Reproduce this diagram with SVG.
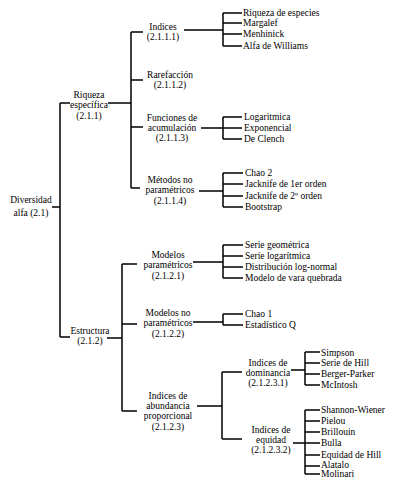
<svg xmlns="http://www.w3.org/2000/svg" width="415" height="490" viewBox="0 0 415 490">
<style>
text{font-family:"Liberation Serif",Tinos,"Times New Roman",Times,serif;font-size:9.5px;fill:#000}
.c{text-anchor:middle}
.e{fill:none;stroke:#000;stroke-width:1.5}
</style>
<rect width="415" height="490" fill="#fff"/>
<g id="connectors">
<path class="e" d="M52 207H60M60 103V337M60 103H70M60 337H70"/>
<path class="e" d="M108 103H131M131 32V188M131 32H143M131 80H143M131 127H143M131 188H140"/>
<path class="e" d="M184 30H223M223 13V46M223 13H242M223 23H242M223 34H242M223 46H242"/>
<path class="e" d="M201 128H223M223 117V139M223 117H242M223 128H242M223 139H242"/>
<path class="e" d="M199 191H223M223 173V207M223 173H243M223 184H243M223 196H243M223 207H243"/>
<path class="e" d="M107 338H122M122 264V411M122 264H137M122 324H137M122 411H137"/>
<path class="e" d="M193 262H223M223 245V278M223 245H243M223 256H243M223 267H243M223 278H243"/>
<path class="e" d="M193 322H223M223 314V325M223 314H243M223 325H243"/>
<path class="e" d="M197 406H222M222 372V439M222 372H242M222 439H242"/>
<path class="e" d="M291 370H305M305 352V385M305 352H320M305 363H320M305 374H320M305 385H320"/>
<path class="e" d="M293 443H305M305 410V474M305 410H320M305 421H320M305 432H320M305 443H320M305 455H320M305 466H320M305 474H320"/>
</g>
<g id="n-diversidad"><text class="c" x="31" y="203">Diversidad</text><text class="c" x="31" y="216">alfa (2.1)</text></g>
<g id="n-riqueza"><text class="c" x="89" y="98">Riqueza</text><text class="c" x="89" y="108">específica</text><text class="c" x="89" y="119">(2.1.1)</text></g>
<g id="n-indices"><text class="c" x="163" y="30">Indices</text><text class="c" x="163" y="40">(2.1.1.1)</text></g>
<g id="n-rarefaccion"><text class="c" x="170" y="78">Rarefacción</text><text class="c" x="170" y="88">(2.1.1.2)</text></g>
<g id="n-funciones"><text class="c" x="172" y="121">Funciones de</text><text class="c" x="172" y="131">acumulación</text><text class="c" x="172" y="141">(2.1.1.3)</text></g>
<g id="n-metodos"><text class="c" x="170" y="183">Métodos no</text><text class="c" x="170" y="193">paramétricos</text><text class="c" x="170" y="204">(2.1.1.4)</text></g>
<g id="n-estructura"><text class="c" x="90" y="334">Estructura</text><text class="c" x="90" y="344">(2.1.2)</text></g>
<g id="n-modelos-param"><text class="c" x="168" y="258">Modelos</text><text class="c" x="168" y="268">paramétricos</text><text class="c" x="168" y="279">(2.1.2.1)</text></g>
<g id="n-modelos-noparam"><text class="c" x="168" y="316">Modelos no</text><text class="c" x="168" y="326">paramétricos</text><text class="c" x="168" y="337">(2.1.2.2)</text></g>
<g id="n-abundancia"><text class="c" x="168" y="399">Indices de</text><text class="c" x="168" y="409">abundancia</text><text class="c" x="168" y="419">proporcional</text><text class="c" x="168" y="430">(2.1.2.3)</text></g>
<g id="n-dominancia"><text class="c" x="268" y="366">Indices de</text><text class="c" x="268" y="376">dominancia</text><text class="c" x="268" y="386">(2.1.2.3.1)</text></g>
<g id="n-equidad"><text class="c" x="271" y="433">Indices de</text><text class="c" x="271" y="443">equidad</text><text class="c" x="271" y="453">(2.1.2.3.2)</text></g>
<g id="leaves-indices">
<text x="243" y="16">Riqueza de especies</text><text x="243" y="26">Margalef</text><text x="243" y="37">Menhinick</text><text x="243" y="49">Alfa de Williams</text></g>
<g id="leaves-funciones"><text x="244" y="120">Logaritmica</text><text x="244" y="131">Exponencial</text><text x="244" y="142">De Clench</text></g>
<g id="leaves-metodos"><text x="245" y="176">Chao 2</text><text x="245" y="187">Jacknife de 1er orden</text><text x="245" y="199">Jacknife de 2º orden</text><text x="245" y="210">Bootstrap</text></g>
<g id="leaves-modelos"><text x="245" y="248">Serie geométrica</text><text x="245" y="259">Serie logarítmica</text><text x="245" y="270">Distribución log-normal</text><text x="245" y="281">Modelo de vara quebrada</text></g>
<g id="leaves-noparam"><text x="245" y="317">Chao 1</text><text x="245" y="328">Estadístico Q</text></g>
<g id="leaves-dominancia"><text x="321" y="356">Simpson</text><text x="321" y="366">Serie de Hill</text><text x="321" y="377">Berger-Parker</text><text x="321" y="388">McIntosh</text></g>
<g id="leaves-equidad"><text x="321" y="413">Shannon-Wiener</text><text x="321" y="424">Pielou</text><text x="321" y="435">Brillouin</text><text x="321" y="446">Bulla</text><text x="321" y="458">Equidad de Hill</text><text x="321" y="468">Alatalo</text><text x="321" y="477">Molinari</text></g>
</svg>
